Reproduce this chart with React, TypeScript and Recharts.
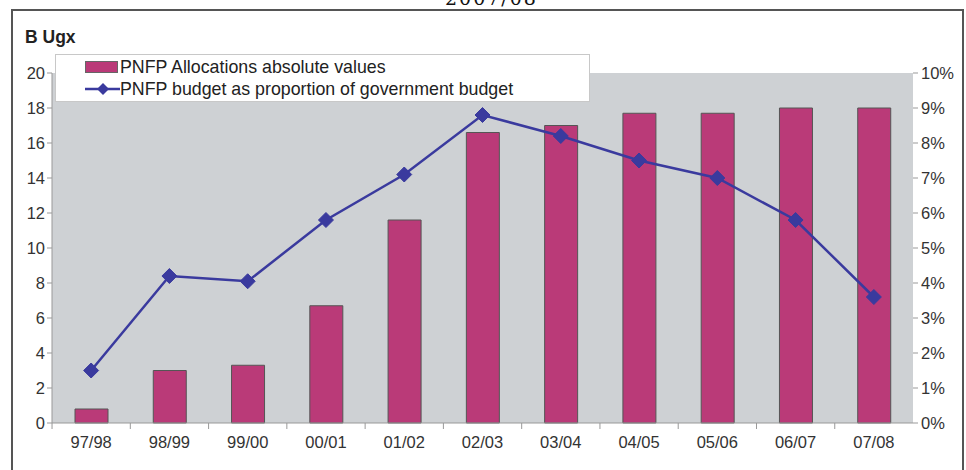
import React from "react";
import { ComposedChart, Bar, Line, XAxis, YAxis, CartesianGrid, Legend } from "recharts";

const categories = ["97/98", "98/99", "99/00", "00/01", "01/02", "02/03", "03/04", "04/05", "05/06", "06/07", "07/08"];
const allocations = [0.8, 3.0, 3.3, 6.7, 11.6, 16.6, 17.0, 17.7, 17.7, 18.0, 18.0];
const proportion = [1.5, 4.2, 4.05, 5.8, 7.1, 8.8, 8.2, 7.5, 7.0, 5.8, 3.6];
const leftTicks = [0, 2, 4, 6, 8, 10, 12, 14, 16, 18, 20];
const rightTicks = [0, 1, 2, 3, 4, 5, 6, 7, 8, 9, 10];

const data = categories.map((c, i) => ({ cat: c, alloc: allocations[i], prop: proportion[i] }));

const BAR_COLOR = "#BA3A78";
const LINE_COLOR = "#3A3A9E";
const FONT = "'Liberation Sans', Arial, sans-serif";
const TICK_SIZE = 16.5;

const Diamond = (props: any) => {
  const { cx, cy } = props;
  if (cx == null || cy == null) return null;
  const r = 7.5;
  return <polygon points={`${cx},${cy - r} ${cx + r},${cy} ${cx},${cy + r} ${cx - r},${cy}`} fill={LINE_COLOR} stroke={LINE_COLOR} strokeWidth={1} />;
};

const XTick = (props: any) => {
  const { x, y, payload } = props;
  const half = 39.1;
  return (
    <g>
      <line x1={x - half} y1={y - 8} x2={x - half} y2={y - 2} stroke="#999" strokeWidth={1} />
      <text x={x} y={y + 17} textAnchor="middle" fill="#333" fontSize={TICK_SIZE} fontFamily={FONT}>{payload.value}</text>
    </g>
  );
};

const LegendContent = () => (
  <div style={{ width: 535, height: 48, background: "#fff", border: "1px solid #c8c8c8", boxSizing: "border-box", fontFamily: FONT, fontSize: 17.8, color: "#222", paddingTop: 1, whiteSpace: "nowrap" }}>
    <div style={{ display: "flex", alignItems: "center", height: 22 }}>
      <div style={{ width: 33, height: 12, marginLeft: 29, marginRight: 2, background: BAR_COLOR, border: "1px solid #666", boxSizing: "border-box" }} />
      <span>PNFP Allocations absolute values</span>
    </div>
    <div style={{ display: "flex", alignItems: "center", height: 22 }}>
      <svg width={35} height={14} style={{ marginLeft: 29, marginRight: 0 }}>
        <line x1={0} y1={7} x2={35} y2={7} stroke={LINE_COLOR} strokeWidth={2.5} />
        <polygon points="18,1 24,7 18,13 12,7" fill={LINE_COLOR} />
      </svg>
      <span>PNFP budget as proportion of government budget</span>
    </div>
  </div>
);

export default function App() {
  return (
    <div style={{ position: "absolute", left: 0, top: 0, width: 966, height: 470, overflow: "hidden", background: "#fff" }}>
      <div style={{ position: "absolute", left: 445, top: -13, fontFamily: "'DejaVu Serif', serif", fontSize: 19, color: "#111", letterSpacing: 2 }}>2007/08</div>
      <div style={{ position: "absolute", left: 11, top: 9, width: 953, height: 480, border: "2px solid #555", boxSizing: "border-box" }} />
      <div style={{ position: "absolute", left: 25, top: 27, fontFamily: FONT, fontSize: 17.5, fontWeight: "bold", color: "#222" }}>B Ugx</div>
      <ComposedChart width={966} height={470} data={data} margin={{ top: 73, right: 0, bottom: 0, left: 0 }} barCategoryGap={0}>
        <CartesianGrid fill="#CED1D4" stroke="none" horizontal={false} vertical={false} />
        <XAxis dataKey="cat" height={47} axisLine={{ stroke: "#999" }} tickLine={false} tick={<XTick />} interval={0} />
        <YAxis yAxisId="left" width={52} domain={[0, 20]} ticks={leftTicks} interval={0} axisLine={{ stroke: "#999" }} tickLine={{ stroke: "#999" }} tickSize={5} tickMargin={2} tick={{ fill: "#333", fontSize: TICK_SIZE, fontFamily: FONT }} />
        <YAxis yAxisId="right" orientation="right" width={53} domain={[0, 10]} ticks={rightTicks} interval={0} tickFormatter={(v: number) => `${v}%`} axisLine={false} tickLine={{ stroke: "#999" }} tickSize={5} tickMargin={3} tick={{ fill: "#333", fontSize: TICK_SIZE, fontFamily: FONT, textAnchor: "start" }} />
        <Legend verticalAlign="middle" align="center" layout="horizontal" content={<LegendContent />} wrapperStyle={{ position: "absolute", left: 55, top: 54, width: 535, height: 48 }} />
        <Bar yAxisId="left" dataKey="alloc" name="PNFP Allocations absolute values" fill={BAR_COLOR} stroke="#555" strokeWidth={1} barSize={33} isAnimationActive={false} />
        <Line yAxisId="right" dataKey="prop" name="PNFP budget as proportion of government budget" stroke={LINE_COLOR} strokeWidth={2.5} dot={<Diamond />} activeDot={false} isAnimationActive={false} />
      </ComposedChart>
    </div>
  );
}
